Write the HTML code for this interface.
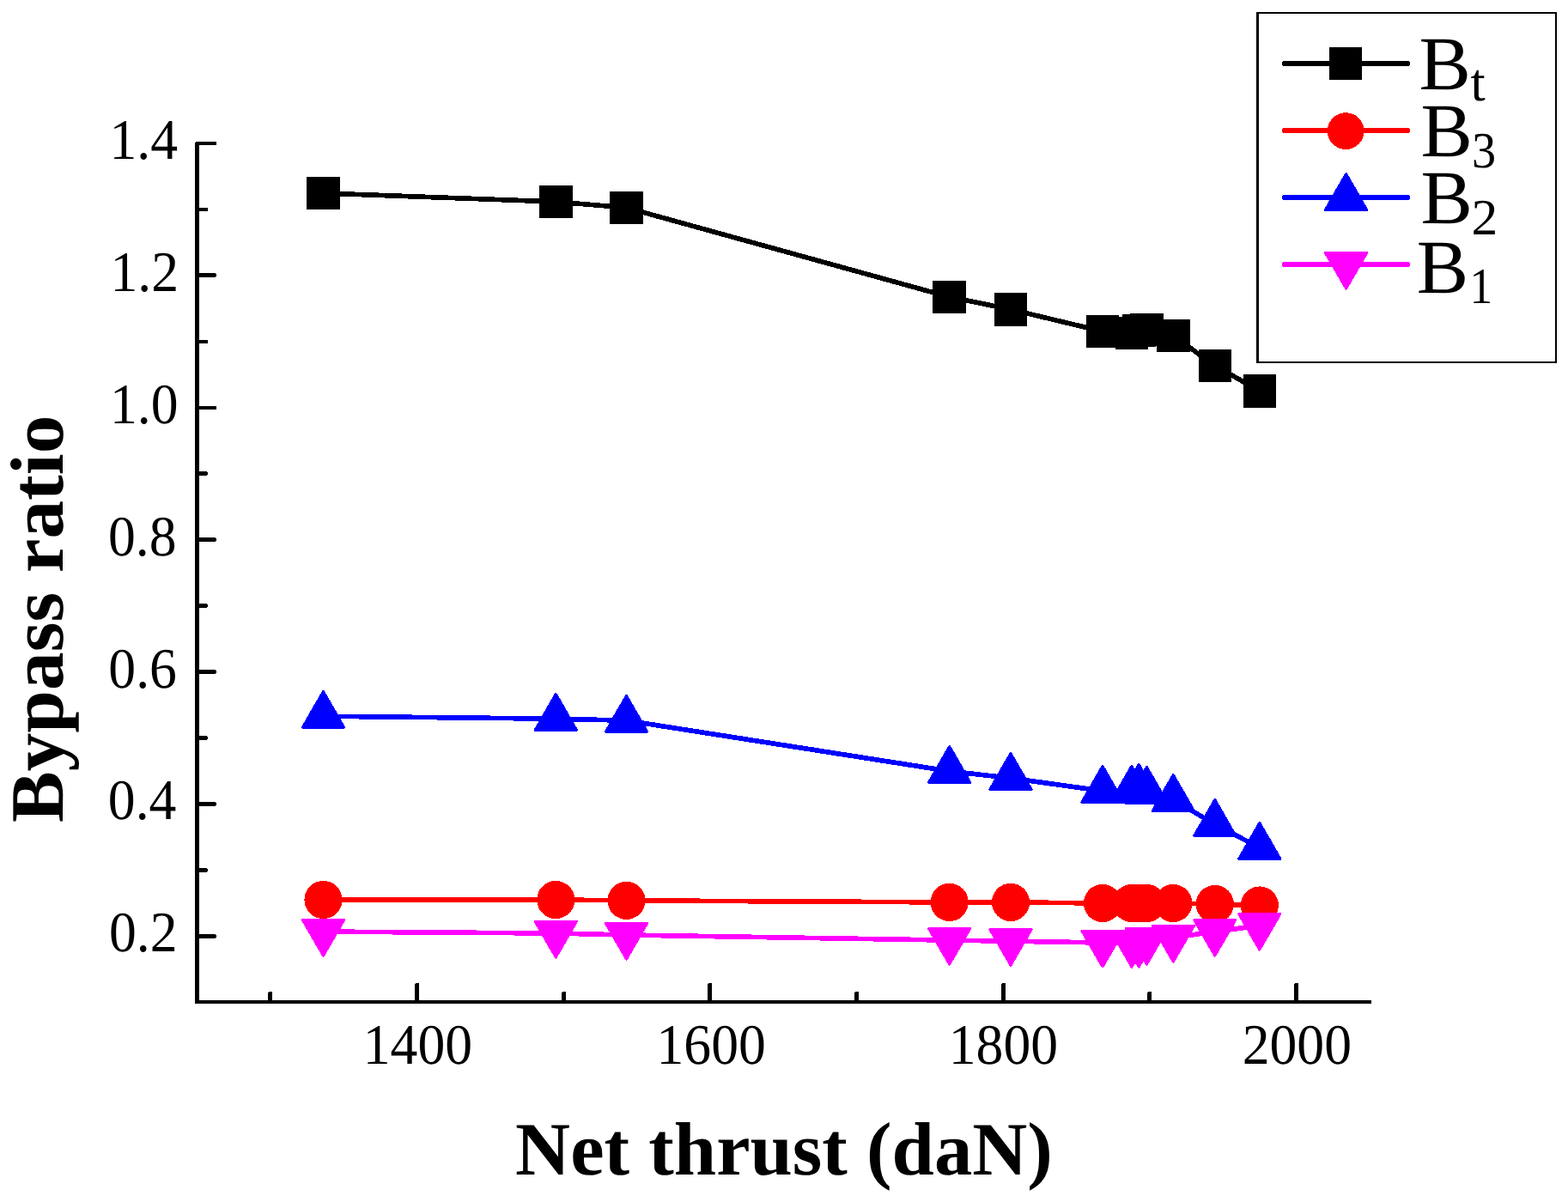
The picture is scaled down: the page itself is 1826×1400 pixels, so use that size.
<!DOCTYPE html>
<html lang="en"><head><meta charset="utf-8"><title>Bypass ratio vs net thrust</title>
<style>
html,body{margin:0;padding:0;background:#fff;}
body{width:1826px;height:1400px;overflow:hidden;}
svg{display:block;}
line,polyline,polygon,rect,circle,path{shape-rendering:crispEdges;}
text{font-family:"Liberation Serif","Times New Roman",Times,serif;fill:#000;text-rendering:geometricPrecision;}
.tk{font-size:66.7px;}
.lg{font-size:88.8px;}
.sb{font-size:59.2px;}
.st{font-size:62.5px;}
.ti{font-size:88px;font-weight:bold;}
</style></head><body>
<svg width="1826" height="1400" viewBox="0 0 1826 1400" role="img" aria-label="Bypass ratio versus net thrust">
<rect x="0" y="0" width="1826" height="1400" fill="#ffffff"/>
<g id="series-bt">
<polyline fill="none" stroke="#000000" stroke-width="5.70" stroke-linejoin="round" points="376.5,225.0 647.3,235.0 729.5,241.9 1105.7,345.9 1177.0,360.4 1284.0,386.0 1318.0,387.9 1326.2,385.0 1335.4,384.0 1366.3,391.0 1414.8,425.9 1466.8,455.4"/>
<rect x="357.2" y="205.7" width="38.6" height="38.6" fill="#000000"/>
<rect x="628.0" y="215.7" width="38.6" height="38.6" fill="#000000"/>
<rect x="710.2" y="222.6" width="38.6" height="38.6" fill="#000000"/>
<rect x="1086.4" y="326.6" width="38.6" height="38.6" fill="#000000"/>
<rect x="1157.7" y="341.1" width="38.6" height="38.6" fill="#000000"/>
<rect x="1264.7" y="366.7" width="38.6" height="38.6" fill="#000000"/>
<rect x="1298.7" y="368.6" width="38.6" height="38.6" fill="#000000"/>
<rect x="1306.9" y="365.7" width="38.6" height="38.6" fill="#000000"/>
<rect x="1316.1" y="364.7" width="38.6" height="38.6" fill="#000000"/>
<rect x="1347.0" y="371.7" width="38.6" height="38.6" fill="#000000"/>
<rect x="1395.5" y="406.6" width="38.6" height="38.6" fill="#000000"/>
<rect x="1447.5" y="436.1" width="38.6" height="38.6" fill="#000000"/>
</g>
<g id="series-b3">
<polyline fill="none" stroke="#ff0000" stroke-width="5.70" stroke-linejoin="round" points="376.5,1048.0 647.3,1048.0 729.5,1048.9 1105.7,1050.9 1177.0,1050.9 1284.0,1052.0 1318.0,1052.0 1326.2,1052.0 1335.4,1052.0 1366.3,1052.0 1414.8,1053.0 1466.8,1054.5"/>
<circle cx="376.5" cy="1048.0" r="22.1" fill="#ff0000"/>
<circle cx="647.3" cy="1048.0" r="22.1" fill="#ff0000"/>
<circle cx="729.5" cy="1048.9" r="22.1" fill="#ff0000"/>
<circle cx="1105.7" cy="1050.9" r="22.1" fill="#ff0000"/>
<circle cx="1177.0" cy="1050.9" r="22.1" fill="#ff0000"/>
<circle cx="1284.0" cy="1052.0" r="22.1" fill="#ff0000"/>
<circle cx="1318.0" cy="1052.0" r="22.1" fill="#ff0000"/>
<circle cx="1326.2" cy="1052.0" r="22.1" fill="#ff0000"/>
<circle cx="1335.4" cy="1052.0" r="22.1" fill="#ff0000"/>
<circle cx="1366.3" cy="1052.0" r="22.1" fill="#ff0000"/>
<circle cx="1414.8" cy="1053.0" r="22.1" fill="#ff0000"/>
<circle cx="1466.8" cy="1054.5" r="22.1" fill="#ff0000"/>
</g>
<g id="series-b2">
<polyline fill="none" stroke="#0000ff" stroke-width="5.70" stroke-linejoin="round" points="376.5,834.2 647.3,837.2 729.5,839.2 1105.7,898.2 1177.0,906.3 1284.0,921.2 1318.0,921.0 1326.2,919.2 1335.4,922.2 1366.3,931.3 1414.8,960.3 1466.8,987.2"/>
<polygon fill="#0000ff" stroke="#0000ff" stroke-width="3.0" stroke-linejoin="round" points="376.5,805.4 400.6,847.3 352.4,847.3"/>
<polygon fill="#0000ff" stroke="#0000ff" stroke-width="3.0" stroke-linejoin="round" points="647.3,808.4 671.4,850.3 623.2,850.3"/>
<polygon fill="#0000ff" stroke="#0000ff" stroke-width="3.0" stroke-linejoin="round" points="729.5,810.4 753.6,852.3 705.4,852.3"/>
<polygon fill="#0000ff" stroke="#0000ff" stroke-width="3.0" stroke-linejoin="round" points="1105.7,869.4 1129.8,911.3 1081.6,911.3"/>
<polygon fill="#0000ff" stroke="#0000ff" stroke-width="3.0" stroke-linejoin="round" points="1177.0,877.5 1201.1,919.4 1152.9,919.4"/>
<polygon fill="#0000ff" stroke="#0000ff" stroke-width="3.0" stroke-linejoin="round" points="1284.0,892.4 1308.1,934.3 1259.9,934.3"/>
<polygon fill="#0000ff" stroke="#0000ff" stroke-width="3.0" stroke-linejoin="round" points="1318.0,892.2 1342.1,934.1 1293.9,934.1"/>
<polygon fill="#0000ff" stroke="#0000ff" stroke-width="3.0" stroke-linejoin="round" points="1326.2,890.4 1350.3,932.3 1302.1,932.3"/>
<polygon fill="#0000ff" stroke="#0000ff" stroke-width="3.0" stroke-linejoin="round" points="1335.4,893.4 1359.5,935.3 1311.3,935.3"/>
<polygon fill="#0000ff" stroke="#0000ff" stroke-width="3.0" stroke-linejoin="round" points="1366.3,902.5 1390.4,944.4 1342.2,944.4"/>
<polygon fill="#0000ff" stroke="#0000ff" stroke-width="3.0" stroke-linejoin="round" points="1414.8,931.5 1438.9,973.4 1390.7,973.4"/>
<polygon fill="#0000ff" stroke="#0000ff" stroke-width="3.0" stroke-linejoin="round" points="1466.8,958.4 1490.9,1000.3 1442.7,1000.3"/>
</g>
<g id="series-b1">
<polyline fill="none" stroke="#ff00ff" stroke-width="5.70" stroke-linejoin="round" points="376.5,1085.1 647.3,1087.0 729.5,1089.0 1105.7,1095.1 1177.0,1096.2 1284.0,1098.0 1318.0,1098.1 1326.2,1098.1 1335.4,1095.1 1366.3,1092.1 1414.8,1085.1 1466.8,1078.1"/>
<polygon fill="#ff00ff" stroke="#ff00ff" stroke-width="3.0" stroke-linejoin="round" points="352.4,1071.5 400.6,1071.5 376.5,1113.1"/>
<polygon fill="#ff00ff" stroke="#ff00ff" stroke-width="3.0" stroke-linejoin="round" points="623.2,1073.4 671.4,1073.4 647.3,1115.0"/>
<polygon fill="#ff00ff" stroke="#ff00ff" stroke-width="3.0" stroke-linejoin="round" points="705.4,1075.4 753.6,1075.4 729.5,1117.0"/>
<polygon fill="#ff00ff" stroke="#ff00ff" stroke-width="3.0" stroke-linejoin="round" points="1081.6,1081.5 1129.8,1081.5 1105.7,1123.1"/>
<polygon fill="#ff00ff" stroke="#ff00ff" stroke-width="3.0" stroke-linejoin="round" points="1152.9,1082.6 1201.1,1082.6 1177.0,1124.2"/>
<polygon fill="#ff00ff" stroke="#ff00ff" stroke-width="3.0" stroke-linejoin="round" points="1259.9,1084.4 1308.1,1084.4 1284.0,1126.0"/>
<polygon fill="#ff00ff" stroke="#ff00ff" stroke-width="3.0" stroke-linejoin="round" points="1293.9,1084.5 1342.1,1084.5 1318.0,1126.1"/>
<polygon fill="#ff00ff" stroke="#ff00ff" stroke-width="3.0" stroke-linejoin="round" points="1302.1,1084.5 1350.3,1084.5 1326.2,1126.1"/>
<polygon fill="#ff00ff" stroke="#ff00ff" stroke-width="3.0" stroke-linejoin="round" points="1311.3,1081.5 1359.5,1081.5 1335.4,1123.1"/>
<polygon fill="#ff00ff" stroke="#ff00ff" stroke-width="3.0" stroke-linejoin="round" points="1342.2,1078.5 1390.4,1078.5 1366.3,1120.1"/>
<polygon fill="#ff00ff" stroke="#ff00ff" stroke-width="3.0" stroke-linejoin="round" points="1390.7,1071.5 1438.9,1071.5 1414.8,1113.1"/>
<polygon fill="#ff00ff" stroke="#ff00ff" stroke-width="3.0" stroke-linejoin="round" points="1442.7,1064.5 1490.9,1064.5 1466.8,1106.1"/>
</g>
<g id="axes" stroke="#000000" fill="none">
<rect x="230" y="1088" width="21" height="5" fill="#000000" stroke="none"/>
<rect x="251" y="1089" width="1" height="3" fill="#000000" stroke="none"/>
<rect x="230" y="1011" width="11" height="5" fill="#000000" stroke="none"/>
<rect x="241" y="1012" width="1" height="3" fill="#000000" stroke="none"/>
<rect x="230" y="934" width="21" height="5" fill="#000000" stroke="none"/>
<rect x="251" y="935" width="1" height="3" fill="#000000" stroke="none"/>
<rect x="230" y="857" width="11" height="5" fill="#000000" stroke="none"/>
<rect x="241" y="858" width="1" height="3" fill="#000000" stroke="none"/>
<rect x="230" y="780" width="21" height="5" fill="#000000" stroke="none"/>
<rect x="251" y="781" width="1" height="3" fill="#000000" stroke="none"/>
<rect x="230" y="703" width="11" height="5" fill="#000000" stroke="none"/>
<rect x="241" y="704" width="1" height="3" fill="#000000" stroke="none"/>
<rect x="230" y="626" width="21" height="5" fill="#000000" stroke="none"/>
<rect x="251" y="627" width="1" height="3" fill="#000000" stroke="none"/>
<rect x="230" y="549" width="11" height="5" fill="#000000" stroke="none"/>
<rect x="241" y="550" width="1" height="3" fill="#000000" stroke="none"/>
<rect x="230" y="473" width="22" height="4" fill="#000000" stroke="none"/>
<rect x="230" y="396" width="12" height="4" fill="#000000" stroke="none"/>
<rect x="230" y="318" width="21" height="5" fill="#000000" stroke="none"/>
<rect x="251" y="319" width="1" height="3" fill="#000000" stroke="none"/>
<rect x="230" y="242" width="12" height="4" fill="#000000" stroke="none"/>
<rect x="230" y="165" width="22" height="4" fill="#000000" stroke="none"/>
<line x1="314.9" y1="1167.0" x2="314.9" y2="1155.0" stroke-width="4.9" stroke-linecap="butt"/>
<line x1="485.6" y1="1167.0" x2="485.6" y2="1145.0" stroke-width="4.9" stroke-linecap="butt"/>
<line x1="656.3" y1="1167.0" x2="656.3" y2="1155.0" stroke-width="4.9" stroke-linecap="butt"/>
<line x1="826.9" y1="1167.0" x2="826.9" y2="1145.0" stroke-width="4.9" stroke-linecap="butt"/>
<line x1="997.6" y1="1167.0" x2="997.6" y2="1155.0" stroke-width="4.9" stroke-linecap="butt"/>
<line x1="1168.3" y1="1167.0" x2="1168.3" y2="1145.0" stroke-width="4.9" stroke-linecap="butt"/>
<line x1="1338.9" y1="1167.0" x2="1338.9" y2="1155.0" stroke-width="4.9" stroke-linecap="butt"/>
<line x1="1509.6" y1="1167.0" x2="1509.6" y2="1145.0" stroke-width="4.9" stroke-linecap="butt"/>
<path d="M229.5,165.0 V1167.0 H1597.0" stroke-width="4.6" stroke-linejoin="miter" stroke-linecap="butt"/>
<rect x="312" y="1155" width="1" height="1" fill="#ffffff" stroke="none"/>
<rect x="483" y="1145" width="1" height="1" fill="#ffffff" stroke="none"/>
<rect x="654" y="1155" width="1" height="1" fill="#ffffff" stroke="none"/>
<rect x="824" y="1145" width="1" height="1" fill="#ffffff" stroke="none"/>
<rect x="995" y="1155" width="1" height="1" fill="#ffffff" stroke="none"/>
<rect x="1166" y="1145" width="1" height="1" fill="#ffffff" stroke="none"/>
<rect x="1336" y="1155" width="1" height="1" fill="#ffffff" stroke="none"/>
<rect x="1507" y="1145" width="1" height="1" fill="#ffffff" stroke="none"/>
<rect x="227" y="165" width="1" height="1" fill="#ffffff" stroke="none"/>
</g>
<g id="ylabels" class="tk" text-anchor="end">
<text transform="translate(207.0,185) scale(0.955,1)">1.4</text>
<text transform="translate(208.0,339) scale(0.955,1)">1.2</text>
<text transform="translate(207.5,493) scale(0.955,1)">1.0</text>
<text transform="translate(205.6,647) scale(0.955,1)">0.8</text>
<text transform="translate(205.9,801) scale(0.955,1)">0.6</text>
<text transform="translate(205.4,954) scale(0.955,1)">0.4</text>
<text transform="translate(206.5,1108) scale(0.955,1)">0.2</text>
</g>
<g id="xlabels" class="tk" text-anchor="end">
<text transform="translate(550.1,1239) scale(0.955,1)">1400</text>
<text transform="translate(891.9,1239) scale(0.955,1)">1600</text>
<text transform="translate(1232.1,1239) scale(0.955,1)">1800</text>
<text transform="translate(1574.0,1239) scale(0.955,1)">2000</text>
</g>
<text class="ti" text-anchor="middle" transform="translate(913,1368) scale(1.008,1)">Net thrust (daN)</text>
<text class="ti" text-anchor="middle" transform="translate(73.2,720.8) rotate(-90) scale(1.016,1)">Bypass ratio</text>
<g id="legend">
<rect x="1463" y="14" width="350" height="409" fill="#000000"/>
<rect x="1466" y="16" width="345" height="405" fill="#ffffff"/>
<line x1="1496.0" y1="74.0" x2="1639.0" y2="74.0" stroke="#000000" stroke-width="6" stroke-linecap="round"/>
<rect x="1548" y="55" width="38" height="38" fill="#000000"/>
<text class="lg" transform="translate(1652.5,104.0) scale(1.02,1)">B</text><text class="sb st" transform="translate(1712.4,116.6) scale(0.990,1)">t</text>
<line x1="1496.0" y1="152.0" x2="1639.0" y2="152.0" stroke="#ff0000" stroke-width="6" stroke-linecap="round"/>
<circle cx="1567.2" cy="152.6" r="21.4" fill="#ff0000"/>
<text class="lg" transform="translate(1654.5,182.0) scale(1.02,1)">B</text><text class="sb" transform="translate(1713.9,195.3) scale(0.950,1)">3</text>
<line x1="1496.0" y1="230.0" x2="1639.0" y2="230.0" stroke="#0000ff" stroke-width="6" stroke-linecap="round"/>
<polygon fill="#0000ff" stroke="#0000ff" stroke-width="3.0" stroke-linejoin="round" points="1567.6,202.5 1591.7,244.4 1543.5,244.4"/>
<text class="lg" transform="translate(1654.5,260.0) scale(1.02,1)">B</text><text class="sb" transform="translate(1713.4,273.0) scale(1.040,1)">2</text>
<line x1="1496.0" y1="308.0" x2="1639.0" y2="308.0" stroke="#ff00ff" stroke-width="6" stroke-linecap="round"/>
<polygon fill="#ff00ff" stroke="#ff00ff" stroke-width="3.0" stroke-linejoin="round" points="1543.5,294.5 1591.7,294.5 1567.6,336.1"/>
<text class="lg" transform="translate(1649.8,341.0) scale(1.02,1)">B</text><text class="sb" transform="translate(1711.4,353.0) scale(0.900,1)">1</text>
</g>
</svg>
</body></html>
